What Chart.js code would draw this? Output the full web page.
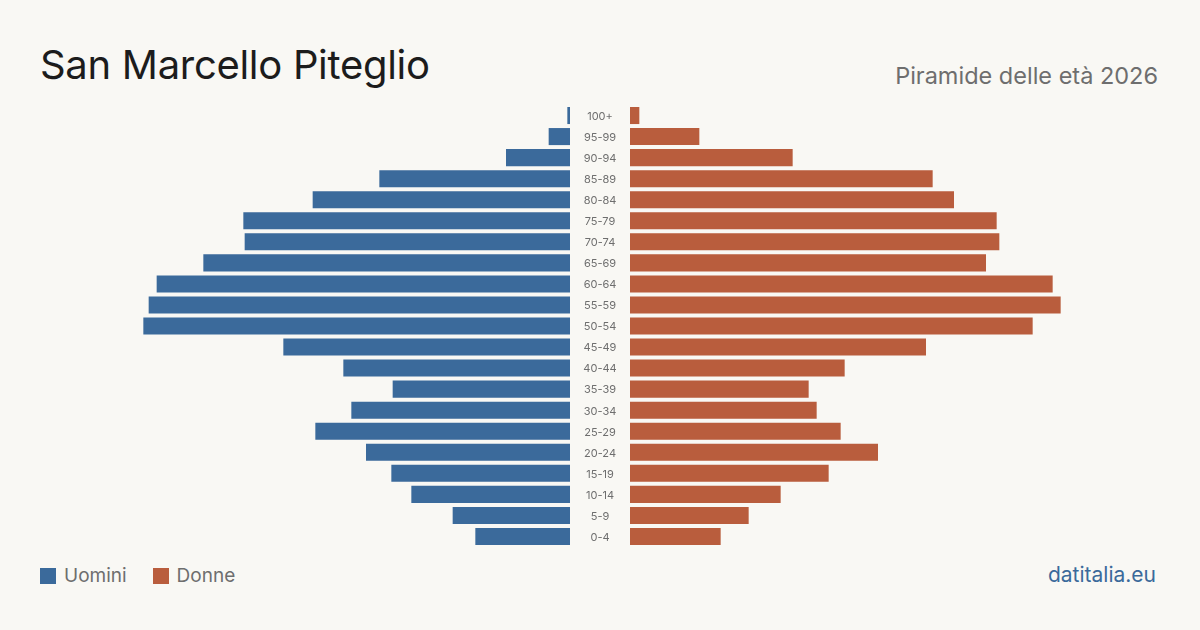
<!DOCTYPE html>
<html lang="it">

<head>
  <meta charset="UTF-8">
  <title> Piramide delle età | San Marcello Piteglio </title>
  <style>
    body {
      margin: 0;
      width: 1200px;
      height: 630px;
      background: #f9f8f4;
      font-family: 'Inter', sans-serif;
      position: relative;
      overflow: hidden;
    }

    h1 {
      position: absolute;
      left: 40px;
      top: 40px;
      margin: 0;
      font-size: 40px;
      font-weight: 400;
      color: #1c1c1c;
      letter-spacing: -0.3px;
    }

    .sottotitolo {
      position: absolute;
      right: 42px;
      top: 61px;
      font-size: 23.5px;
      color: #6e6e6e;
    }

    .sinistra {
      position: absolute;
      left: 130px;
      top: 105px;
      width: 440px;
      height: 442px;
    }

    .destra {
      position: absolute;
      left: 570px;
      top: 105px;
      width: 500px;
      height: 442px;
    }

    .legenda {
      position: absolute;
      left: 40px;
      top: 564px;
      font-size: 19px;
      color: #6e6e6e;
      display: flex;
      align-items: center;
    }

    .legenda span.box {
      display: inline-block;
      width: 16px;
      height: 16px;
      margin-right: 8px;
    }

    .legenda .voce {
      display: flex;
      align-items: center;
      margin-right: 26px;
    }

    .fonte {
      position: absolute;
      right: 44px;
      top: 562px;
      font-size: 21px;
      color: #3b6a9b;
    }
  </style>
</head>

<body>

  <h1>San Marcello Piteglio</h1>
  <div class="sottotitolo">Piramide delle età 2026</div>

  <div class="sinistra"><canvas id="graficoUomini"></canvas></div>
  <div class="destra"><canvas id="graficoDonne"></canvas></div>

  <div class="legenda">
    <div class="voce"><span class="box" style="background:#3b6a9b"></span>Uomini</div>
    <div class="voce"><span class="box" style="background:#b95d3d"></span>Donne</div>
  </div>
  <div class="fonte">datitalia.eu</div>

  <script src="https://cdn.jsdelivr.net/npm/chart.js"></script>
  <script>

    // classi di età, dalla più anziana in alto
    const classi = ['100+', '95-99', '90-94', '85-89', '80-84', '75-79', '70-74', '65-69', '60-64', '55-59',
      '50-54', '45-49', '40-44', '35-39', '30-34', '25-29', '20-24', '15-19', '10-14', '5-9', '0-4']
    const uomini = [2, 16, 48, 143, 193, 245, 244, 275, 310, 316, 320, 215, 170, 133, 164, 191, 153, 134, 119, 88, 71]
    const donne = [7, 52, 122, 227, 243, 275, 277, 267, 317, 323, 302, 222, 161, 134, 140, 158, 186, 149, 113, 89, 68]
    const massimo = 330

    const BLU = '#3b6a9b'
    const ROSSO = '#b95d3d'

    // scrive le classi di età nello spazio a sinistra del grafico delle donne
    const etichetteCentrali = {
      id: 'etichetteCentrali',
      afterDraw(chart) {
        const ctx = chart.ctx
        const y = chart.scales.y
        ctx.save()
        ctx.fillStyle = '#6e6e6e'
        ctx.font = '11px Inter'
        ctx.textAlign = 'center'
        ctx.textBaseline = 'middle'
        classi.forEach(function (c, i) {
          ctx.fillText(c, chart.chartArea.left - 30, y.getPixelForValue(i) + 1)
        })
        ctx.restore()
      }
    }

    function opzioni(invertito, spazio) {
      return {
        indexAxis: 'y',
        responsive: true,
        maintainAspectRatio: false,
        animation: false,
        layout: { padding: { left: spazio } },
        plugins: { legend: { display: false }, tooltip: { enabled: false } },
        scales: {
          x: { display: false, min: 0, max: massimo, reverse: invertito },
          y: { display: false }
        }
      }
    }

    new Chart(document.getElementById('graficoUomini'), {
      type: 'bar',
      data: {
        labels: classi,
        datasets: [{
          label: 'Uomini',
          data: uomini,
          backgroundColor: BLU,
          barPercentage: 0.81,
          categoryPercentage: 1,
        }]
      },
      options: opzioni(true, 0)
    });

    new Chart(document.getElementById('graficoDonne'), {
      type: 'bar',
      data: {
        labels: classi,
        datasets: [{
          label: 'Donne',
          data: donne,
          backgroundColor: ROSSO,
          barPercentage: 0.81,
          categoryPercentage: 1,
        }]
      },
      options: opzioni(false, 60),
      plugins: [etichetteCentrali]
    });

  </script>
</body>

</html>
